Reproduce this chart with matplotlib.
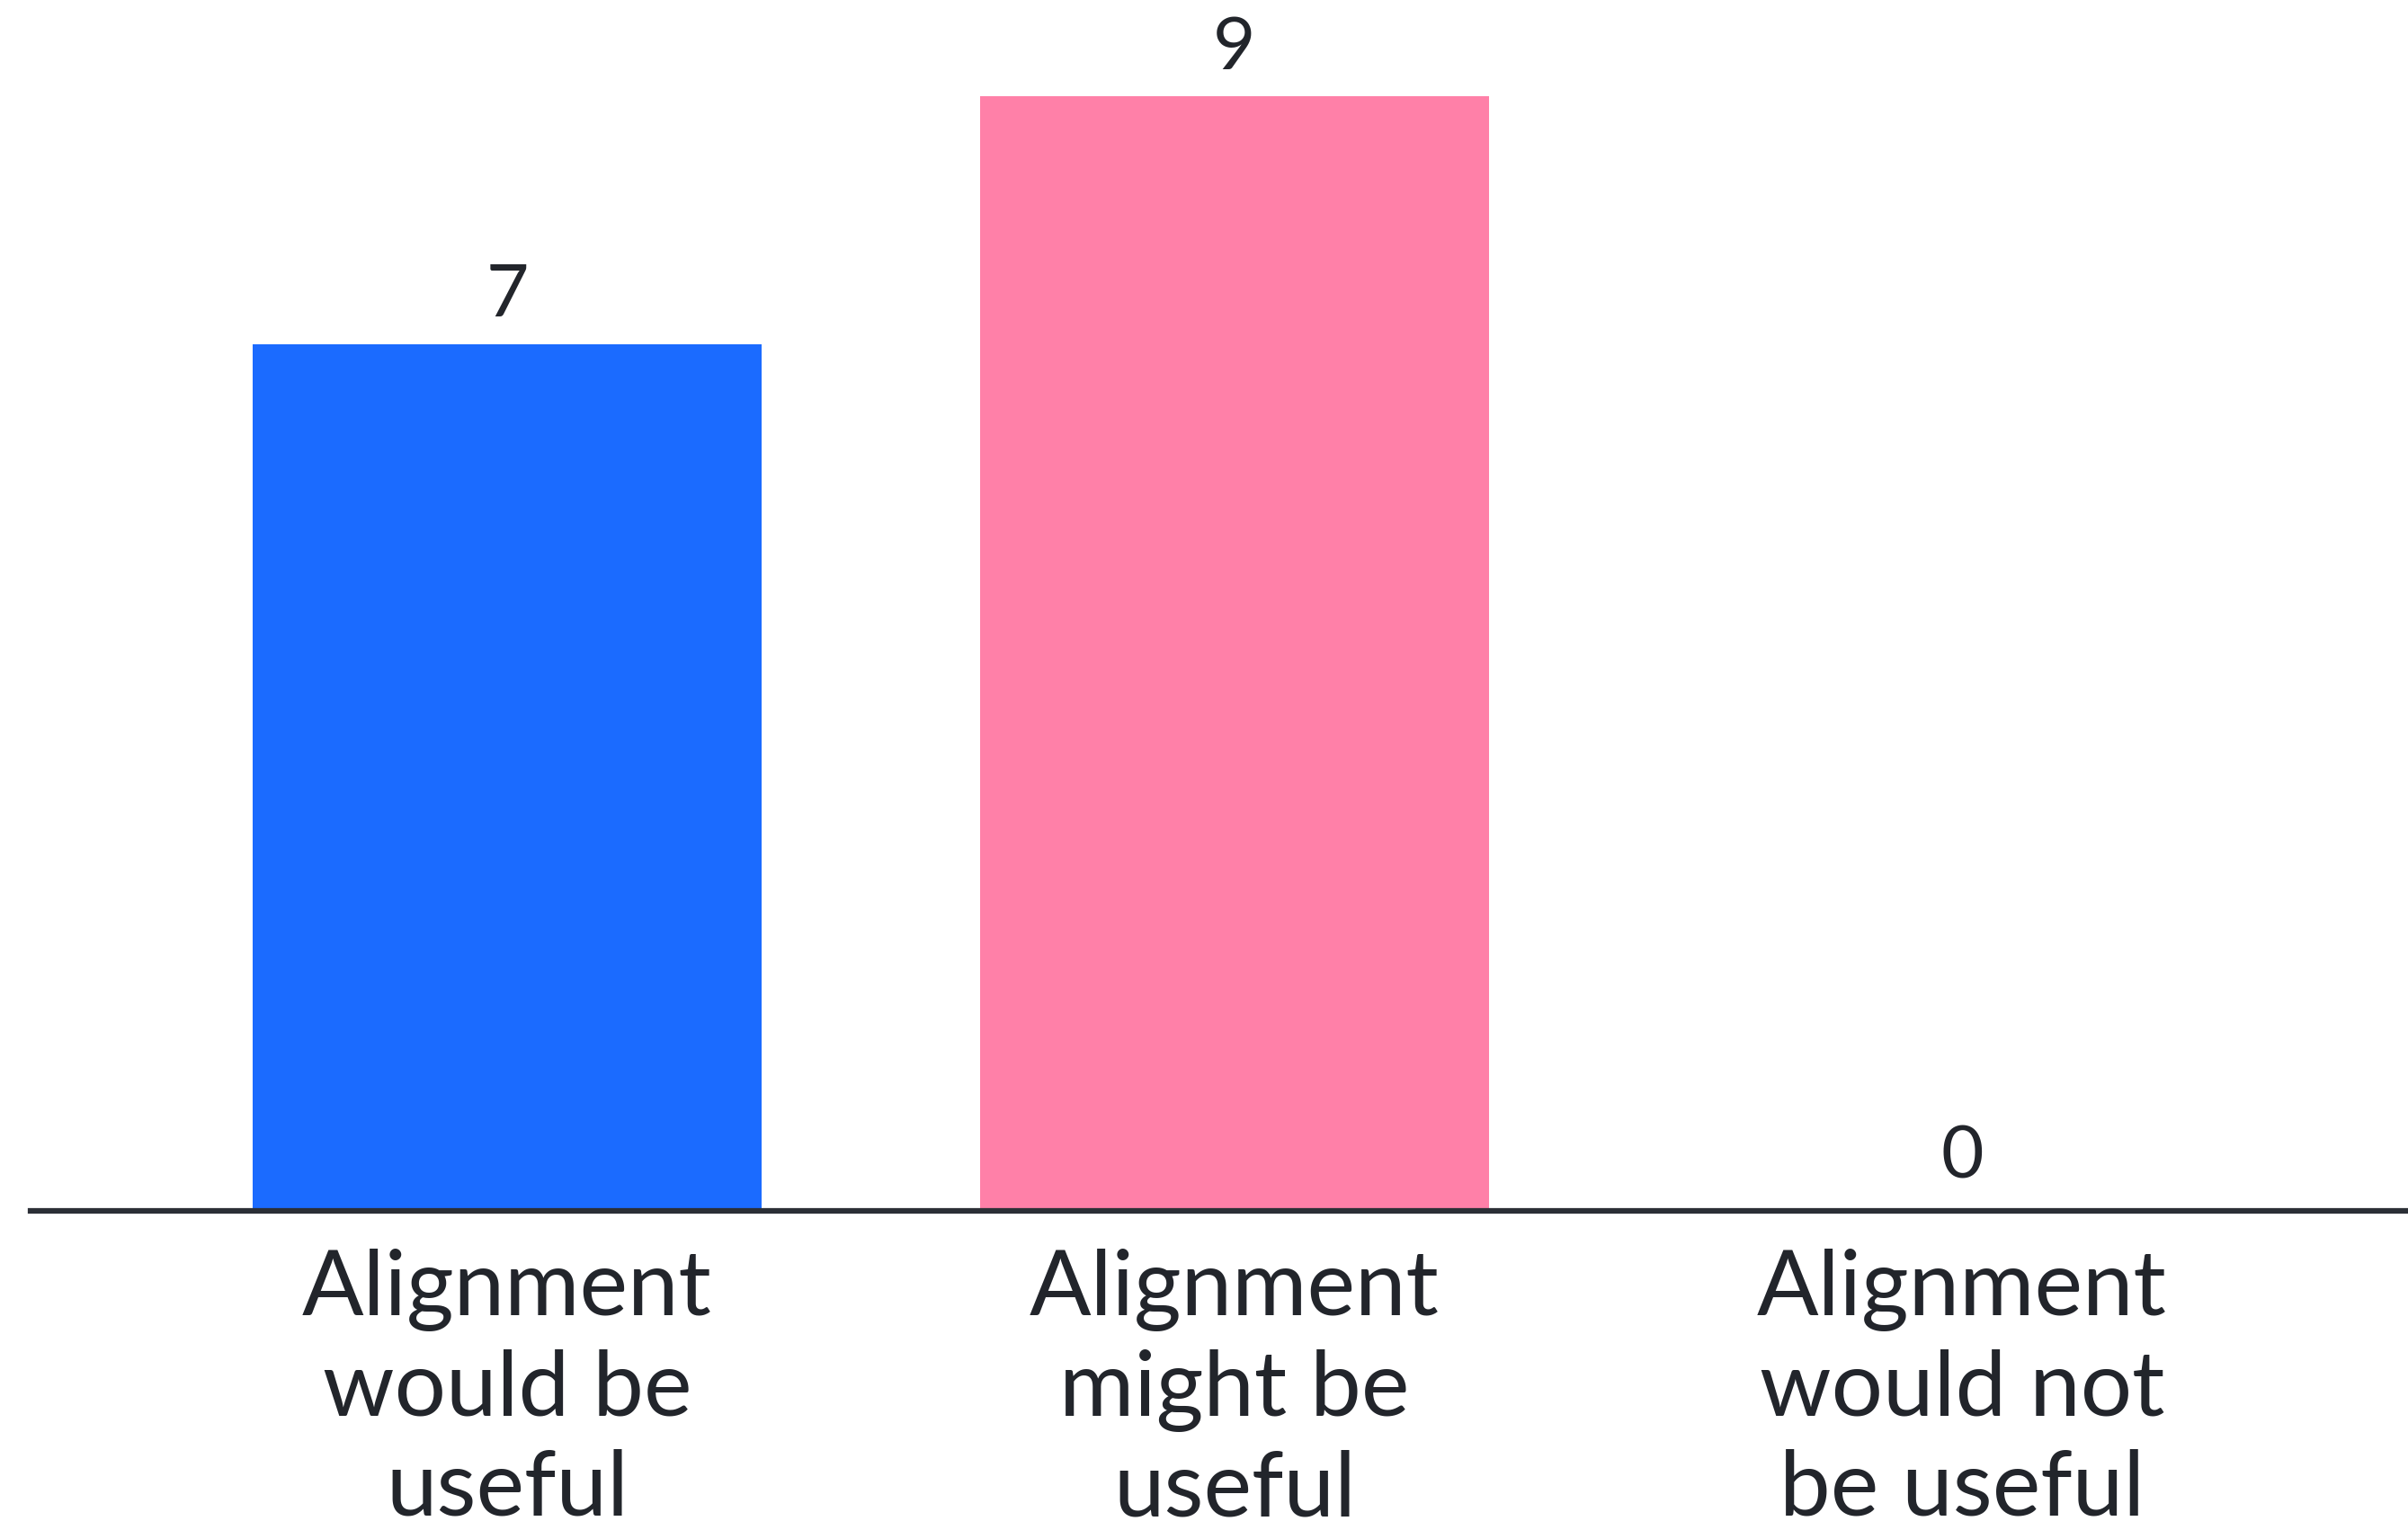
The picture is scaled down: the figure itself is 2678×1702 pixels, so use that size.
import matplotlib
matplotlib.use("Agg")
import matplotlib.pyplot as plt

categories = ["Alignment\nwould be\nuseful", "Alignment\nmight be\nuseful", "Alignment\nwould not\nbe useful"]
values = [7, 9, 0]
colors = ["#1B6BFF", "#FF80A8", "#9B9B9B"]

plt.rcParams['font.family'] = ['Lato', 'DejaVu Sans']
text_color = "#22252B"

W, H, DPI = 2678, 1702, 100
fig = plt.figure(figsize=(W / DPI, H / DPI), dpi=DPI)
axis_y_px = 1347
ax = fig.add_axes([34 / W, (H - axis_y_px) / H, (W - 34) / W, axis_y_px / H])

x = list(range(len(categories)))
ax.bar(x, values, width=0.70, color=colors, zorder=2)

for xi, v in zip(x, values):
    off = 22 if v > 0 else 26
    ax.annotate(str(v), (xi, v), xytext=(0, off), textcoords="offset points",
                ha="center", va="baseline", fontsize=59, color=text_color)

ax.set_xlim(-0.655, 2.613)
ax.set_ylim(0, 9.78)
ax.set_xticks(x)
ax.set_xticklabels(categories, fontsize=73, color=text_color, linespacing=1.27)
ax.tick_params(axis="x", length=0, pad=30)
ax.set_yticks([])
for s in ["top", "left", "right"]:
    ax.spines[s].set_visible(False)
ax.spines["bottom"].set_color("#2B2F36")
ax.spines["bottom"].set_linewidth(4.5)
ax.spines["bottom"].set_zorder(3)

fig.savefig("out.png", dpi=DPI, facecolor="white")
